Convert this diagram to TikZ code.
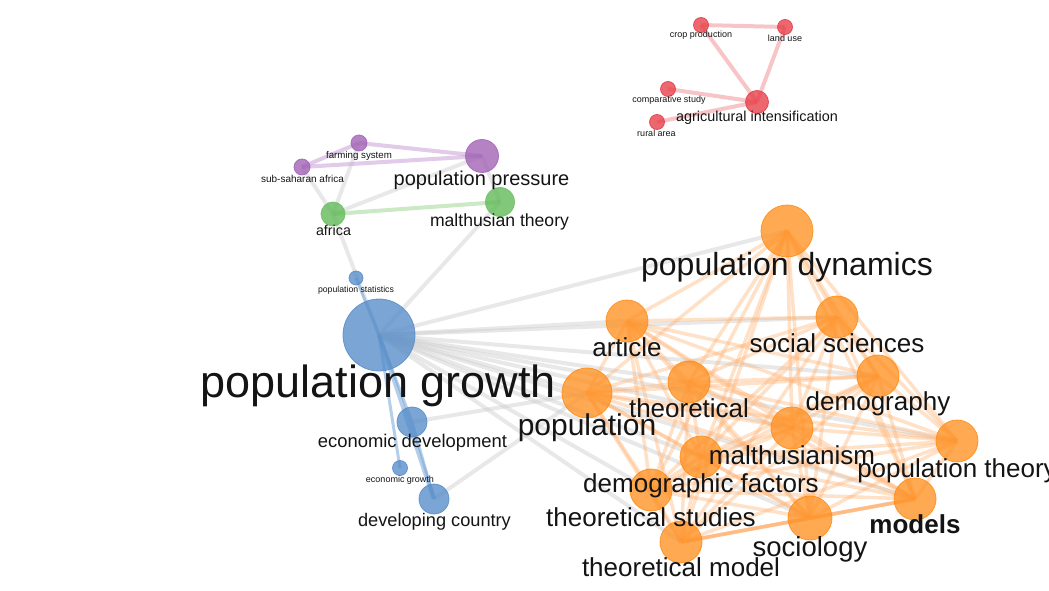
\documentclass[tikz,border=0pt]{standalone}
\usepackage{fontspec}
\setmainfont{Liberation Sans}
\definecolor{redN}{RGB}{232,60,70}
\definecolor{redB}{RGB}{225,60,70}
\definecolor{redE}{RGB}{240,150,155}
\definecolor{purN}{RGB}{160,95,180}
\definecolor{purB}{RGB}{160,100,185}
\definecolor{purE}{RGB}{200,160,215}
\definecolor{grnN}{RGB}{95,185,85}
\definecolor{grnB}{RGB}{110,190,100}
\definecolor{grnE}{RGB}{160,215,150}
\definecolor{bluN}{RGB}{85,140,200}
\definecolor{bluB}{RGB}{90,140,200}
\definecolor{bluE}{RGB}{120,165,215}
\definecolor{orgN}{RGB}{255,145,35}
\definecolor{orgB}{RGB}{255,140,20}
\definecolor{orgE}{RGB}{255,175,110}
\definecolor{gryE}{RGB}{205,205,205}
\definecolor{labC}{RGB}{20,20,20}
\pgfdeclarelayer{edges}
\pgfsetlayers{edges,main}
\begin{document}
\begin{tikzpicture}[x=1pt,y=-1pt,
  vn/.style={circle,inner sep=0pt,minimum size=2*#1 pt,line width=0.8pt,fill opacity=0.78,draw opacity=0.85},
  rn/.style={vn=#1,fill=redN,draw=redB},
  pn/.style={vn=#1,fill=purN,draw=purB},
  gn/.style={vn=#1,fill=grnN,draw=grnB},
  bn/.style={vn=#1,fill=bluN,draw=bluB},
  on/.style={vn=#1,fill=orgN,draw=orgB},
  lab/.style={anchor=base,inner sep=0pt,text=labC,font=\fontsize{#1}{#1}\selectfont},
  gedge/.style={draw=gryE,line width=4pt,opacity=0.45},
  redge/.style={draw=redE,line width=4pt,opacity=0.55},
  pedge/.style={draw=purE,line width=4pt,opacity=0.55},
  grnedge/.style={draw=grnE,line width=4pt,opacity=0.55},
  bedge/.style={draw=bluE,line width=#1,opacity=0.55},
  oedge/.style={draw=orgE,line width=3.5pt,opacity=0.38}
]
\useasboundingbox (0,0) rectangle (1049,591);
% red cluster
\node[rn=7.5] (crop) at (701,25) {};
\node[rn=7.5] (land) at (785,27) {};
\node[rn=7.5] (comp) at (668,89) {};
\node[rn=7.5] (rural) at (657,122) {};
\node[rn=11.5] (agri) at (757,102) {};
% purple cluster
\node[pn=8] (farm) at (359,143) {};
\node[pn=8] (ssa) at (302,167) {};
\node[pn=16.5] (press) at (482,156) {};
% green cluster
\node[gn=12] (africa) at (333,214) {};
\node[gn=14.5] (mtheory) at (500,202) {};
% blue cluster
\node[bn=7] (stat) at (356,278) {};
\node[bn=36] (growth) at (379,335) {};
\node[bn=15] (econdev) at (412,422) {};
\node[bn=7.5] (econgr) at (400,468) {};
\node[bn=15] (devc) at (434,499) {};
% orange cluster
\node[on=26] (dyn) at (787,231) {};
\node[on=21] (art) at (627,321) {};
\node[on=21] (soc) at (837,317) {};
\node[on=25] (pop) at (587,393) {};
\node[on=21] (theo) at (689,382) {};
\node[on=21] (demo) at (878,376) {};
\node[on=21] (malth) at (792,428) {};
\node[on=21] (ptheory) at (957,441) {};
\node[on=21] (dfact) at (701,457) {};
\node[on=21] (tstud) at (651,490) {};
\node[on=21] (tmodel) at (681,542) {};
\node[on=22] (socio) at (810,518) {};
\node[on=21] (models) at (915,499) {};

\begin{pgfonlayer}{edges}
  % gray inter-cluster links
  \foreach \b in {dyn,art,soc,pop,theo,demo,malth,ptheory,dfact,tstud,tmodel,socio,models}
    \draw[gedge] (growth.center) -- (\b.center);
  \draw[gedge] (growth.center) -- (africa.center);
  \draw[gedge] (growth.center) -- (mtheory.center);
  \draw[gedge] (africa.center) -- (ssa.center);
  \draw[gedge] (africa.center) -- (farm.center);
  \draw[gedge] (africa.center) -- (press.center);
  \draw[gedge] (press.center) -- (mtheory.center);
  \draw[gedge] (econdev.center) -- (pop.center);
  \draw[gedge] (devc.center) -- (pop.center);
  % red
  \draw[redge] (crop.center) -- (land.center);
  \draw[redge] (crop.center) -- (agri.center);
  \draw[redge] (land.center) -- (agri.center);
  \draw[redge] (comp.center) -- (agri.center);
  \draw[redge] (rural.center) -- (agri.center);
  % purple
  \draw[pedge] (farm.center) -- (press.center);
  \draw[pedge] (ssa.center) -- (press.center);
  \draw[pedge] (ssa.center) -- (farm.center);
  % green
  \draw[grnedge] (africa.center) -- (mtheory.center);
  % blue
  \draw[bedge=3pt] (stat.center) -- (growth.center);
  \draw[bedge=4.5pt] (growth.center) -- (devc.center);
  \draw[bedge=3pt] (growth.center) -- (econgr.center);
  \draw[bedge=3pt] (growth.center) -- (econdev.center);
  \draw[bedge=3pt] (econdev.center) -- (devc.center);
  % orange: complete graph
  \foreach \a [count=\i] in {dyn,art,soc,pop,theo,demo,malth,ptheory,dfact,tstud,tmodel,socio,models}{
    \foreach \b [count=\j] in {dyn,art,soc,pop,theo,demo,malth,ptheory,dfact,tstud,tmodel,socio,models}{
      \ifnum\j>\i \draw[oedge] (\a.center) -- (\b.center);\fi
    }
  }
  \draw[oedge] (tmodel.center) -- (socio.center);
  \draw[oedge] (socio.center) -- (models.center);
  \draw[oedge] (tmodel.center) -- (models.center);
\end{pgfonlayer}

% labels
\node[lab=9] (l-crop) at (701,38) {crop production};
\node[lab=9] (l-land) at (785,42) {land use};
\node[lab=9] (l-comp) at (669,103) {comparative study};
\node[lab=9] (l-rural) at (656.5,136) {rural area};
\node[lab=14.4] (l-agri) at (757,122) {agricultural intensification};
\node[lab=9.7] (l-farm) at (359,158) {farming system};
\node[lab=10] (l-ssa) at (302.5,182) {sub-saharan africa};
\node[lab=20] (l-press) at (481.5,185) {population pressure};
\node[lab=14.3] (l-africa) at (333.5,235) {africa};
\node[lab=17.6] (l-mtheory) at (499.5,226) {malthusian theory};
\node[lab=8.7] (l-stat) at (356,292) {population statistics};
\node[lab=45] (l-growth) at (378.5,397) {population growth};
\node[lab=18.4] (l-econdev) at (412.5,447) {economic development};
\node[lab=9] (l-econgr) at (400,482) {economic growth};
\node[lab=18.2] (l-devc) at (434.5,526) {developing country};
\node[lab=32] (l-dyn) at (787,275) {population dynamics};
\node[lab=26] (l-art) at (627,356) {article};
\node[lab=26] (l-soc) at (837,352) {social sciences};
\node[lab=30] (l-pop) at (587,435) {population};
\node[lab=26] (l-theo) at (689,417) {theoretical};
\node[lab=26] (l-demo) at (878,410) {demography};
\node[lab=26] (l-malth) at (792,464) {malthusianism};
\node[lab=26] (l-ptheory) at (957,477) {population theory};
\node[lab=26] (l-dfact) at (701,492) {demographic factors};
\node[lab=26] (l-tstud) at (651,526) {theoretical studies};
\node[lab=27.5] (l-socio) at (810,556) {sociology};
\node[lab=26,font=\fontsize{26}{26}\selectfont\bfseries] (l-models) at (915,533) {models};
\node[lab=26] (l-tmodel) at (681,576) {theoretical model};
\end{tikzpicture}
\end{document}
